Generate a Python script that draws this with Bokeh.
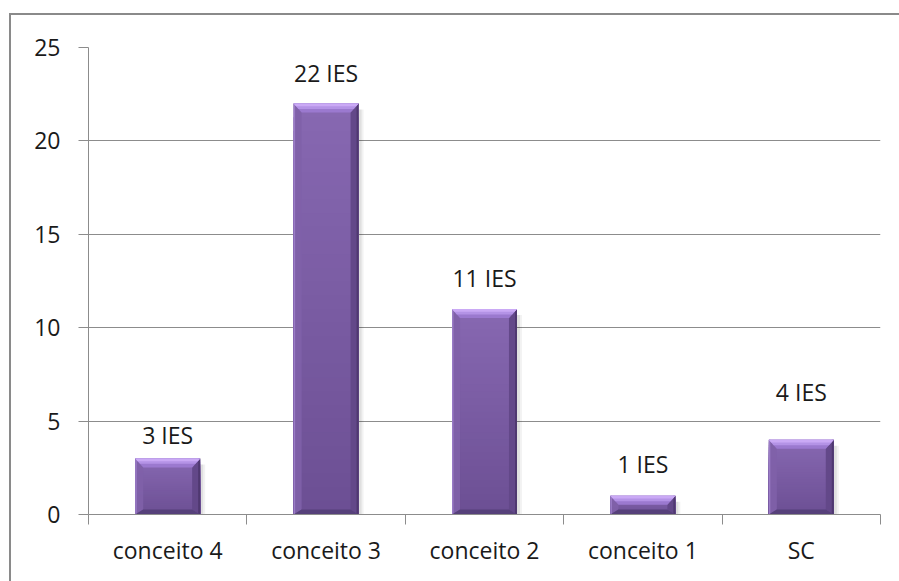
from bokeh.plotting import figure
from bokeh.models import FixedTicker, Range1d
from bokeh.embed import file_html
from bokeh.resources import INLINE
from bokeh.core.properties import value

categories = ["conceito 4", "conceito 3", "conceito 2", "conceito 1", "SC"]
counts = [3, 22, 11, 1, 4]
labels = ["3 IES", "22 IES", "11 IES", "1 IES", "4 IES"]
y_ticks = [0, 5, 10, 15, 20, 25]

# style: distance (px) from bar top to label centre, as placed in the original
label_gap_px = [23, 31, 31, 32, 48]

FONT = "Open Sans"
FS = "23px"
GRID = "#8c8c8c"
TXT = "#1a1a1a"

p = figure(width=890, height=568, output_backend="svg", toolbar_location=None,
           x_range=Range1d(0, len(categories)), y_range=Range1d(0, 25),
           min_border_left=77, min_border_right=21, min_border_top=32, min_border_bottom=69)
p.margin = (13, 0, 0, 9)
p.styles = {"border-top": "2px solid #8a8a8a", "border-left": "2px solid #8a8a8a"}
p.outline_line_color = None
p.background_fill_color = "white"
p.border_fill_color = "white"

# pixel -> data conversions (frame 792 x 467 px)
fw, fh = 792.0, 467.0
xpx = len(categories) / fw
ypx = 25.0 / fh

xc = [i + 0.5 for i in range(len(categories))]
bw = 0.41
L = [c - bw / 2 for c in xc]
R = [c + bw / 2 for c in xc]
T = list(counts)

# soft shadow
for k, a in [(5, 0.05), (3, 0.07)]:
    p.quad(left=[l + k * xpx for l in L], right=[r + k * xpx for r in R], bottom=[-k * ypx] * 5,
           top=[t - 6 * ypx for t in T], fill_color="#000000", fill_alpha=a, line_color=None)


def hexmix(c1, c2, f):
    a = [int(c1[i:i + 2], 16) for i in (1, 3, 5)]
    b = [int(c2[i:i + 2], 16) for i in (1, 3, 5)]
    return "#%02x%02x%02x" % tuple(round(a[j] + (b[j] - a[j]) * f) for j in range(3))


# main face with vertical gradient (stacked from full height down, so no seams)
N = 30
for k in range(N - 1, -1, -1):
    f1 = (k + 1) / N
    p.quad(left=L, right=R, bottom=[0] * 5, top=[t * f1 for t in T],
           fill_color=hexmix("#6c4f94", "#8768b1", (k + 0.5) / N), line_color=None)

b = 8 * xpx
bh = 9 * ypx
bb = 5 * ypx
# left strip
p.patches(xs=[[l, l + b, l + b, l] for l in L],
          ys=[[t, t - bh, bb, 0] for t in T], fill_color="#7f61a9", fill_alpha=0.9, line_color=None)
p.patches(xs=[[l, l + 1.5 * xpx, l + 1.5 * xpx, l] for l in L],
          ys=[[t, t, 0, 0] for t in T], fill_color="#9a7cc6", line_color=None)
# right strip
p.patches(xs=[[r, r - b, r - b, r] for r in R],
          ys=[[t, t - bh, bb, 0] for t in T], fill_color="#634889", line_color=None)
p.patches(xs=[[r, r - 2 * xpx, r - 2 * xpx, r] for r in R],
          ys=[[t, t, 0, 0] for t in T], fill_color="#4f3870", line_color=None)
# bottom strip
p.patches(xs=[[l, l + b, r - b, r] for l, r in zip(L, R)],
          ys=[[0, bb, bb, 0] for _ in T], fill_color="#56407a", line_color=None)
# top bevel (bands)
p.patches(xs=[[l, r, r - b, l + b] for l, r in zip(L, R)],
          ys=[[t, t, t - bh, t - bh] for t in T], fill_color="#9b79cf", line_color=None)
p.patches(xs=[[l, r, r - b * 0.6, l + b * 0.6] for l, r in zip(L, R)],
          ys=[[t, t, t - bh * 0.6, t - bh * 0.6] for t in T], fill_color="#b493e6", line_color=None)
p.patches(xs=[[l, r, r - b * 0.3, l + b * 0.3] for l, r in zip(L, R)],
          ys=[[t, t, t - bh * 0.3, t - bh * 0.3] for t in T], fill_color="#caa9f5", line_color=None)

# value labels
for xi, yi, ti, g in zip(xc, T, labels, label_gap_px):
    p.text(x=[xi], y=[yi], text=[ti], text_align="center", text_baseline="middle",
           y_offset=-g, text_font=value(FONT), text_font_size=FS, text_color=TXT)

# axes
p.xgrid.grid_line_color = None
p.ygrid.grid_line_color = GRID
p.ygrid.ticker = FixedTicker(ticks=y_ticks[1:])

p.yaxis.ticker = FixedTicker(ticks=y_ticks)
p.yaxis.axis_line_color = GRID
p.yaxis.major_tick_line_color = GRID
p.yaxis.major_tick_out = 10
p.yaxis.major_tick_in = 0
p.yaxis.minor_tick_line_color = None
p.yaxis.major_label_standoff = 18
p.yaxis.major_label_text_font = FONT
p.yaxis.major_label_text_font_size = FS
p.yaxis.major_label_text_color = TXT

p.xaxis.ticker = FixedTicker(ticks=xc, minor_ticks=list(range(len(categories) + 1)))
p.xaxis.major_label_overrides = {c: n for c, n in zip(xc, categories)}
p.xaxis.axis_line_color = GRID
p.xaxis.major_tick_line_color = None
p.xaxis.major_tick_out = 0
p.xaxis.major_tick_in = 0
p.xaxis.minor_tick_line_color = GRID
p.xaxis.minor_tick_out = 10
p.xaxis.minor_tick_in = 0
p.xaxis.major_label_standoff = 9
p.xaxis.major_label_text_font = FONT
p.xaxis.major_label_text_font_size = FS
p.xaxis.major_label_text_color = TXT

open("out.html", "w").write(file_html(p, INLINE))
